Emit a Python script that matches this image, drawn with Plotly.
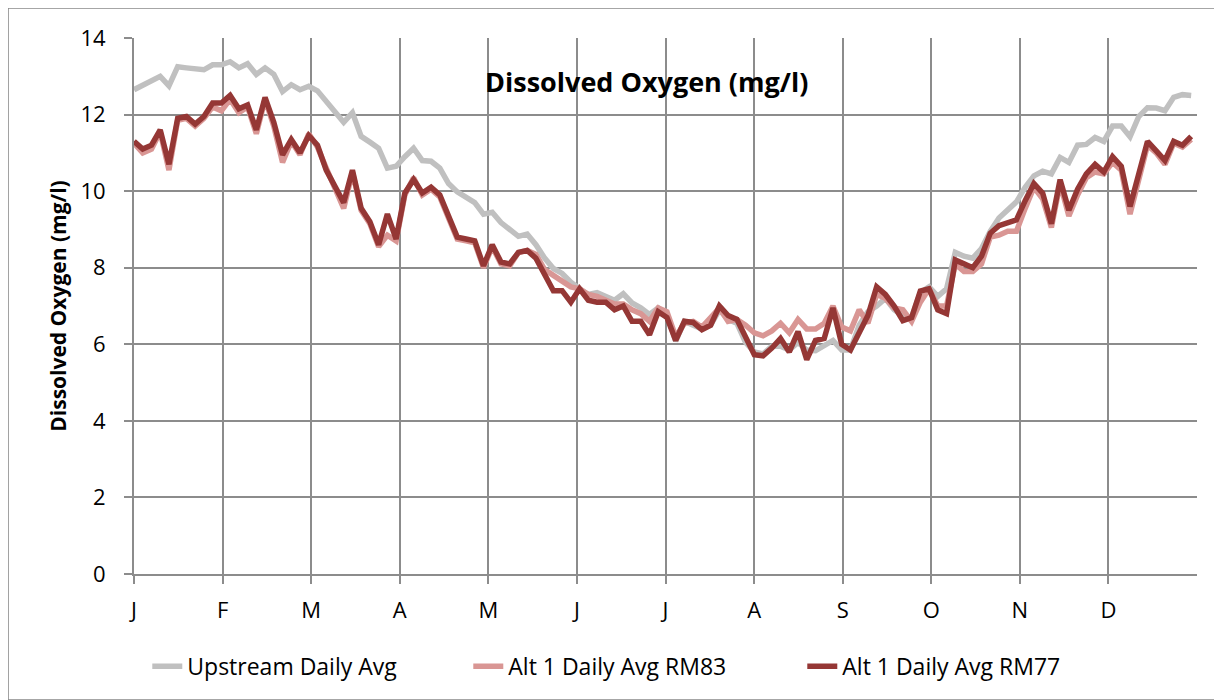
import plotly.graph_objects as go

# dia del año (cada 3 dias)
dias = list(range(0, 364, 3))

upstream = [12.65, 12.78, 12.9, 13.0, 12.75, 13.25, 13.22, 13.2, 13.17, 13.3,
            13.3, 13.38, 13.22, 13.33, 13.05, 13.22, 13.05, 12.6, 12.78, 12.65,
            12.74, 12.62, 12.35, 12.12, 11.8, 12.05, 11.43, 11.28, 11.12, 10.6,
            10.65, 10.9, 11.12, 10.8, 10.78, 10.6, 10.2, 9.98, 9.85, 9.7,
            9.4, 9.45, 9.18, 8.98, 8.82, 8.88, 8.6, 8.25, 7.98, 7.85,
            7.62, 7.45, 7.3, 7.35, 7.25, 7.15, 7.32, 7.08, 6.95, 6.78,
            6.95, 6.8, 6.08, 6.6, 6.5, 6.4, 6.5, 6.9, 6.65, 6.55,
            6.05, 5.8, 5.75, 5.95, 5.95, 5.85, 6.05, 5.85, 5.83, 5.95,
            6.1, 5.85, 5.85, 6.5, 6.85, 7.0, 7.2, 6.9, 6.75, 6.7,
            7.35, 7.5, 7.25, 7.45, 8.4, 8.3, 8.25, 8.5, 8.95, 9.3,
            9.5, 9.72, 10.1, 10.4, 10.52, 10.45, 10.88, 10.75, 11.2, 11.22,
            11.4, 11.3, 11.7, 11.7, 11.42, 11.95, 12.18, 12.17, 12.1, 12.45,
            12.52, 12.5]

rm83 = [11.25, 11.0, 11.1, 11.55, 10.55, 11.85, 11.9, 11.7, 11.9, 12.2,
        12.1, 12.4, 12.05, 12.2, 11.5, 12.4, 11.7, 10.75, 11.3, 10.95,
        11.5, 11.15, 10.6, 10.1, 9.55, 10.5, 9.5, 9.15, 8.55, 8.85,
        8.7, 9.9, 10.35, 9.9, 10.05, 9.85, 9.3, 8.75, 8.7, 8.65,
        8.0, 8.55, 8.1, 8.05, 8.4, 8.45, 8.35, 7.95, 7.8, 7.65,
        7.5, 7.45, 7.3, 7.25, 7.15, 7.05, 7.05, 6.9, 6.8, 6.6,
        6.95, 6.85, 6.2, 6.55, 6.6, 6.45, 6.7, 6.95, 6.6, 6.65,
        6.5, 6.3, 6.22, 6.35, 6.55, 6.3, 6.65, 6.4, 6.4, 6.55,
        7.0, 6.45, 6.35, 6.9, 6.55, 7.3, 7.2, 6.95, 6.9, 6.6,
        7.1, 7.45, 7.0, 7.0, 8.1, 7.9, 7.9, 8.1, 8.8, 8.85,
        8.95, 8.95, 9.55, 10.1, 9.8, 9.05, 10.2, 9.35, 9.9, 10.35,
        10.5, 10.45, 10.75, 10.55, 9.4, 10.3, 11.2, 11.0, 10.7, 11.25,
        11.15, 11.35]

rm77 = [11.3, 11.1, 11.2, 11.6, 10.7, 11.9, 11.95, 11.75, 11.95, 12.3,
        12.3, 12.5, 12.15, 12.25, 11.6, 12.45, 11.8, 10.95, 11.35, 11.0,
        11.45, 11.2, 10.55, 10.15, 9.7, 10.55, 9.55, 9.2, 8.6, 9.4,
        8.75, 9.95, 10.3, 9.95, 10.1, 9.9, 9.35, 8.8, 8.75, 8.7,
        8.05, 8.6, 8.15, 8.1, 8.4, 8.45, 8.25, 7.85, 7.4, 7.4,
        7.1, 7.45, 7.15, 7.1, 7.1, 6.9, 7.0, 6.6, 6.6, 6.25,
        6.85, 6.7, 6.1, 6.6, 6.57, 6.38, 6.5, 7.0, 6.75, 6.65,
        6.15, 5.73, 5.7, 5.9, 6.15, 5.8, 6.33, 5.6, 6.1, 6.15,
        6.95, 6.0, 5.85, 6.3, 6.75, 7.5, 7.3, 7.0, 6.62, 6.7,
        7.39, 7.45, 6.9, 6.8, 8.2, 8.1, 8.0, 8.3, 8.9, 9.1,
        9.18, 9.25, 9.75, 10.2, 9.95, 9.15, 10.3, 9.5, 10.05, 10.45,
        10.7, 10.5, 10.9, 10.65, 9.6, 10.4, 11.3, 11.05, 10.8, 11.3,
        11.2, 11.43]

meses = ['J', 'F', 'M', 'A', 'M', 'J', 'J', 'A', 'S', 'O', 'N', 'D']
pos_meses = [i * 365 / 12 for i in range(12)]

gris = '#8c8c8c'

fig = go.Figure()
fig.add_trace(go.Scatter(x=dias, y=upstream, mode='lines', name='Upstream Daily Avg',
                         line=dict(color='#c0c0c0', width=5.5), legendwidth=276))
fig.add_trace(go.Scatter(x=dias, y=rm83, mode='lines', name='Alt 1 Daily Avg RM83',
                         line=dict(color='#d99694', width=5.5), legendwidth=289))
fig.add_trace(go.Scatter(x=dias, y=rm77, mode='lines', name='Alt 1 Daily Avg RM77',
                         line=dict(color='#953735', width=5.5), legendwidth=260))

# la pagina tiene un margen de 8px, por eso l/t son menores
fig.update_layout(
    width=1222, height=700,
    margin=dict(l=126, r=33, t=30, b=134, autoexpand=False),
    plot_bgcolor='white', paper_bgcolor='white',
    font=dict(family='Open Sans', size=22, color='black'),
    legend=dict(orientation='h', x=0.0125, xanchor='left', y=-0.172, yanchor='middle',
                font=dict(size=23), itemwidth=30, tracegroupgap=0),
    annotations=[dict(text='<b>Dissolved Oxygen (mg/l)</b>', x=0.4817, y=0.918,
                      xref='paper', yref='paper', xanchor='center', yanchor='middle',
                      showarrow=False, font=dict(size=27, color='black'))],
    shapes=[dict(type='rect', xref='paper', yref='paper',
                 x0=-0.1185, x1=1.0169, y0=-0.235, y1=1.056,
                 line=dict(color='#898989', width=1.5))],
)

fig.update_xaxes(range=[0, 365], tickvals=pos_meses, ticktext=meses,
                 showgrid=True, gridcolor=gris, gridwidth=1.5,
                 showline=True, linecolor=gris, linewidth=2,
                 ticks='outside', ticklen=8, tickcolor=gris, tickwidth=1.5,
                 ticklabelstandoff=8, zeroline=False, automargin=False)
fig.update_yaxes(range=[0, 14], dtick=2,
                 showgrid=True, gridcolor=gris, gridwidth=1.5,
                 showline=True, linecolor=gris, linewidth=2,
                 ticks='outside', ticklen=8, tickcolor=gris, tickwidth=1.5,
                 ticklabelstandoff=14, zeroline=False, automargin=False,
                 title=dict(text='<b>Dissolved Oxygen (mg/l)</b>', font=dict(size=21), standoff=8))

fig.write_html("out.html")
